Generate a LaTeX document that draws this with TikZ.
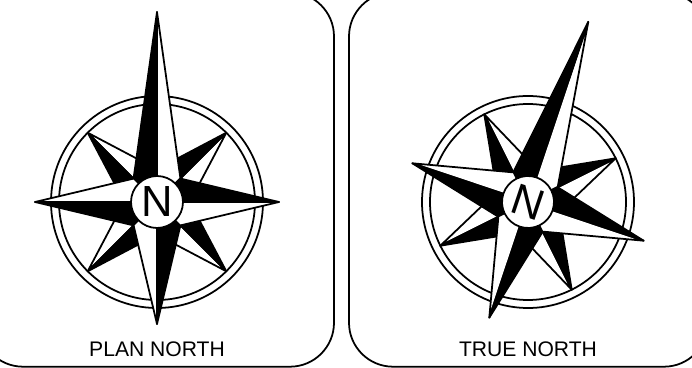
\documentclass[tikz,border=0pt]{standalone}
\usepackage{fontspec}
\setmainfont{Liberation Sans}

\begin{document}
\begin{tikzpicture}[
    x=0.025cm, y=0.025cm,
    outline/.style={draw=black, line width=1.25pt, line join=round},
    panel/.style={outline, rounded corners=1.1cm},
    caption/.style={font=\fontsize{15}{17}\selectfont, text=black},
    hub/.style={circle, draw=black, line width=1.25pt, fill=white, minimum size=1.3cm, inner sep=0pt, font=\fontsize{31}{33}\selectfont, text=black},
    rose/.pic={
        % rings
        \draw[outline] (0,0) circle (106);
        \draw[outline] (0,0) circle (98);
        % short points between the main ones
        \foreach \a in {45,135,225,315} {
            \filldraw[outline, fill=white, rotate=\a] (0,98) -- (17,43) -- (0,0) -- cycle;
            \filldraw[outline, fill=black, rotate=\a] (0,98) -- (-17,43) -- (0,0) -- cycle;
        }
        % main points
        \foreach \a/\len in {0/190,90/122,180/122,270/122} {
            \filldraw[outline, fill=white, rotate=\a] (0,\len) -- (23.5,23) -- (0,0) -- cycle;
            \filldraw[outline, fill=black, rotate=\a] (0,\len) -- (-23.5,23) -- (0,0) -- cycle;
        }
    }
]
\useasboundingbox (0,0) rectangle (692,368);
\draw[panel] (-21,1.3) rectangle (334,375.6);
\draw[panel] (349,1.3) rectangle (708,375.6);
\pic at (157,166) {rose};
\node[hub] (planhub) at (157,166) {N};
\node[caption] (plan) at (157,18.3) {PLAN NORTH};
\pic[rotate=-18.5] at (528,166) {rose};
\node[hub, rotate=-18.5] (truehub) at (528,166) {N};
\node[caption] (true) at (528,18.3) {TRUE NORTH};
\end{tikzpicture}
\end{document}
